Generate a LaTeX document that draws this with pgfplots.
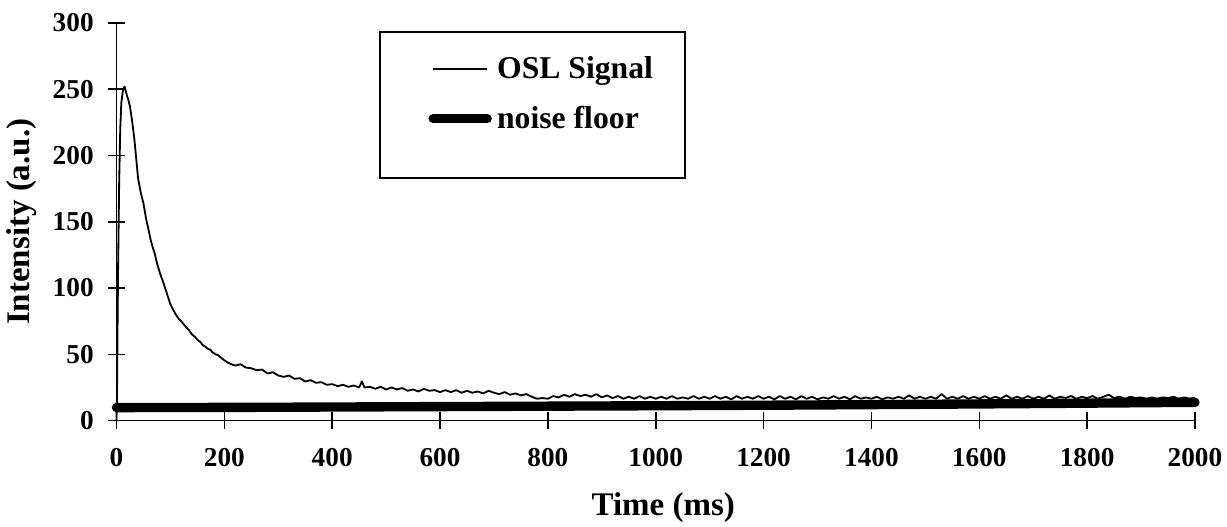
\documentclass[border=0pt]{standalone}
\usepackage{fontspec}
\setmainfont{Liberation Serif}
\usepackage{pgfplots}
\pgfplotsset{compat=1.18}

\begin{document}
\begin{tikzpicture}
  \begin{axis}[
      scale only axis,
      width=415pt, height=153pt,
      xmin=0, xmax=2000,
      ymin=0, ymax=300,
      xtick={0,200,...,2000},
      ytick={0,50,...,300},
      axis lines*=left,
      axis line style={line width=0.6pt},
      tick style={line width=0.6pt, black},
      tick align=center,
      major tick length=6.5pt,
      clip=false,
      /pgf/number format/assume math mode=true,
      /pgf/number format/1000 sep={},
      tick label style={font=\fontsize{10.5}{12}\selectfont\bfseries},
      xticklabel style={yshift=-4pt},
      yticklabel style={xshift=-2pt},
      label style={font=\fontsize{12.7}{15}\selectfont\bfseries},
      xlabel={Time (ms)},
      ylabel={Intensity (a.u.)},
      xlabel style={at={(rel axis cs:0.507,-0.2186)}, anchor=center},
      ylabel style={at={(rel axis cs:-0.0876,0.5)}, anchor=center},
      legend style={
        at={(rel axis cs:0.2888,0.821)}, anchor=west,
        draw=none, fill=none, inner sep=0pt,
        row sep=5pt,
        font=\fontsize{12.2}{14}\selectfont\bfseries,
        cells={anchor=west, inner xsep=1pt, inner ysep=2pt},
      },
      legend image code/.code={\draw[#1] (0pt,0pt) -- (20.8pt,0pt);},
    ]
    % OSL signal
    \addplot[black, line width=0.7pt, line join=round] coordinates {
      (0,0)(1,20)(2,70)(3,115)(5,180)(7,220)(9,240)(12,249)(15,252)(19,246)
      (22,242)(25,237)(29,226)(33,213)(37,196)(40,183)(45,172)(50,164)(55,152)(59,145)
      (63,137)(67,131)(71,126)(75,119)(80,112)(87,104)(91,99)(95,94)(99,89)(102,86)
      (106,83)(110,80)(115,77)(120,75)(124,73)(130,70)(135,68)(140,65)(146,63)(150,61)
      (155,59.5)(160,57)(164,56)(170,54)(174,53.5)(178,51.5)(184,50)(188,49.5)(192,48)(197,46.5)
      (200,45.5)(210,43)(220,41.5)(230,42.5)(240,40)(250,39.5)(260,38)(270,38.5)(280,35.5)(290,36.5)
      (300,34)(310,33)(320,34)(330,31.5)(340,32)(350,29.5)(360,30.5)(370,28.5)(380,29)(390,27)
      (400,27.5)(410,26)(420,27)(430,25.5)(440,26.5)(450,25)(455,29.5)(460,25)(470,25.5)(480,24)(490,25.5)
      (500,23.5)(510,25)(520,23.5)(530,24.5)(540,22.5)(550,23.5)(560,22)(570,24)(580,22.5)(590,23)
      (600,21.5)(610,23)(620,21.5)(630,23)(640,21)(650,22.5)(660,21)(670,22)(680,20.5)(690,22.5)
      (700,21)(710,20)(720,21.5)(730,19.5)(740,20.5)(750,19)(760,20)(770,18)(780,16.5)(790,17)
      (800,16.5)(810,18.5)(820,17.5)(830,19.5)(840,18)(850,20)(860,18.5)(870,19.5)(880,18)(890,20)
      (900,17.5)(910,19)(920,17)(930,18.5)(940,16.5)(950,18)(960,16.5)(970,18.5)(980,16.5)(990,18)
      (1000,16.5)(1010,18)(1020,16.5)(1030,18.5)(1040,16.5)(1050,17.5)(1060,16.5)(1070,18.5)(1080,16.5)(1090,18)
      (1100,16.5)(1110,18.5)(1120,16.5)(1130,18)(1140,16)(1150,18.5)(1160,16.5)(1170,18)(1180,16.5)(1190,18.5)
      (1200,16.5)(1210,18)(1220,16)(1230,18.5)(1240,16.5)(1250,18)(1260,16)(1270,18.5)(1280,16.5)(1290,18)
      (1300,16)(1310,17.5)(1320,16.5)(1330,18.5)(1340,16.5)(1350,18)(1360,16)(1370,18.5)(1380,16.5)(1390,17.5)
      (1400,16.5)(1410,18)(1420,16)(1430,17.5)(1440,16.5)(1450,18)(1460,16.5)(1470,19)(1480,16.5)(1490,18)
      (1500,16.5)(1510,18)(1520,16.5)(1530,20)(1540,16.5)(1550,18)(1560,16.5)(1570,18.5)(1580,16.5)(1590,18)
      (1600,16.5)(1610,18.5)(1620,16.5)(1630,18)(1640,16.5)(1650,19)(1660,16.5)(1670,18)(1680,16.5)(1690,18.5)
      (1700,16.5)(1710,18)(1720,16.5)(1730,19)(1740,16.5)(1750,18)(1760,17)(1770,18.5)(1780,16.5)(1790,18)
      (1800,17)(1810,18.5)(1820,16.5)(1830,18)(1840,19.5)(1850,17)(1860,18)(1870,16.5)(1880,18)(1890,17)
      (1900,17.5)(1910,16.5)(1920,17.5)(1930,16.5)(1940,17.5)(1950,17)(1960,18)(1970,16.5)(1980,17.5)(1990,16.5)
      (2000,17)
    };
    \addlegendentry{OSL Signal}
    % noise floor
    \addplot[black, line width=3.6pt, line cap=round] coordinates {
      (0,9.8)(250,10)(500,10.4)(750,10.8)(1000,11.2)(1250,11.7)(1500,12.3)(1750,13)(2000,13.8)
    };
    \addlegendentry{noise floor}
    % legend frame
    \draw[black, line width=0.6pt] (rel axis cs:0.2443,0.6106) rectangle (rel axis cs:0.5271,0.978);
    \coordinate (bl) at (rel axis cs:-0.108,-0.2663);
    \coordinate (tr) at (rel axis cs:1.0297,1.0578);
  \end{axis}
  \pgfresetboundingbox
  \path[use as bounding box] (bl) rectangle (tr);
\end{tikzpicture}
\end{document}
